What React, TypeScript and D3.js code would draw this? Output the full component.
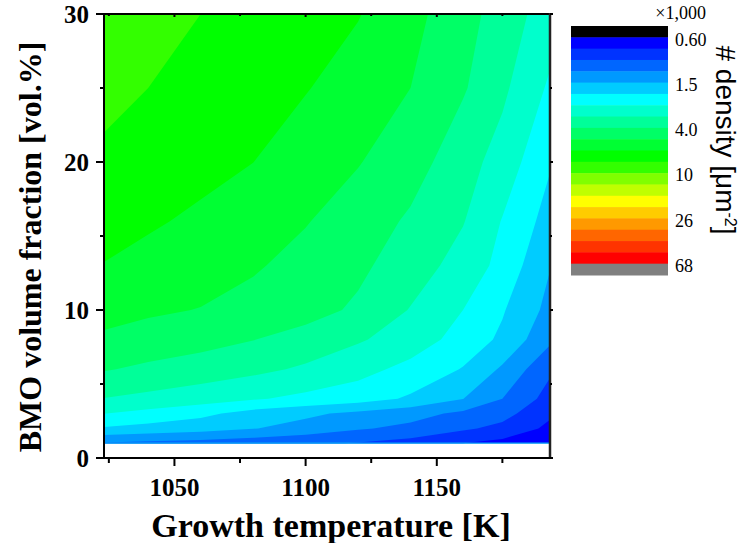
import React from "react";
import * as d3 from "d3";

// growth temperature [K] (grid columns)
const temps = [1023.15, 1040, 1060, 1080, 1100, 1120, 1140, 1160, 1175, 1193.15];
// BMO volume fraction [vol.%] (grid rows)
const fractions = [1, 2, 3, 4, 6, 8, 10, 13, 16, 20, 25, 30];
// number density, x1,000 um^-2, one row per volume fraction
const density = [
  [1.19, 1.15, 1.11, 1.06, 1.0, 0.95, 0.88, 0.76, 0.71, 0.65],
  [1.91, 1.8, 1.7, 1.56, 1.41, 1.25, 1.15, 1.0, 0.9, 0.72],
  [2.49, 2.31, 2.08, 1.78, 1.62, 1.46, 1.33, 1.16, 1.05, 0.79],
  [3.12, 2.96, 2.76, 2.54, 2.34, 2.18, 1.89, 1.55, 1.22, 0.88],
  [4.05, 3.8, 3.58, 3.33, 3.03, 2.69, 2.31, 1.93, 1.49, 1.0],
  [4.87, 4.59, 4.32, 4.0, 3.66, 3.22, 2.82, 2.26, 1.87, 1.28],
  [5.41, 5.22, 5.0, 4.7, 4.32, 3.84, 3.1, 2.48, 2.0, 1.44],
  [6.34, 6.02, 5.61, 5.16, 4.7, 4.17, 3.54, 2.86, 2.31, 1.56],
  [6.86, 6.54, 6.16, 5.61, 5.1, 4.53, 3.84, 3.18, 2.45, 1.78],
  [7.72, 7.27, 6.78, 6.39, 5.67, 5.1, 4.43, 3.45, 2.86, 2.0],
  [8.68, 8.09, 7.54, 6.94, 6.46, 5.74, 5.04, 4.08, 3.29, 2.39],
  [9.55, 8.89, 8.09, 7.62, 7.1, 6.46, 5.41, 4.37, 3.58, 2.79],
];

// contour levels (x1,000 um^-2)
const levels = [
  0.6, 0.76, 0.963, 1.22, 1.545, 1.957, 2.48, 3.14, 3.98, 5.04, 6.38,
  8.09, 10.2, 13.0, 16.4, 20.8, 26.4, 33.4, 42.3, 53.6, 68.0,
];
// band colours: below first level, between levels, above last level
const bandColors = [
  "#000000", "#0000ff", "#0033ff", "#0066ff", "#0099ff", "#00ccff", "#00ffff",
  "#00ffcc", "#00ff99", "#00ff66", "#00ff33", "#00ff00", "#33ff00", "#80ff00",
  "#bfff00", "#ffff00", "#ffcc00", "#ff9900", "#ff6600", "#ff3300", "#ff0000",
  "#808080",
];
const barLabels = ["0.60", "1.5", "4.0", "10", "26", "68"];
const barLabelLevels = [0, 4, 8, 12, 16, 20];

const xMajor = [1050, 1100, 1150];
const xMinor = [1025, 1075, 1125, 1175];
const yMajor = [0, 10, 20, 30];
const yMinor = [5, 15, 25];

const W = 743, H = 543;
const left = 104, right = 550, top = 14, bottom = 458;
const serif = "'Times New Roman', 'Liberation Serif', serif";
const sans = "Arial, 'Liberation Sans', sans-serif";

export default function App() {
  const x = d3.scaleLinear().domain([temps[0], temps[temps.length - 1]]).range([left, right]);
  const y = d3.scaleLinear().domain([0, 30]).range([bottom, top]);

  const n = temps.length, m = fractions.length;
  const colT = d3.scaleLinear().domain(d3.range(n)).range(temps);
  const rowV = d3.scaleLinear().domain(d3.range(m)).range(fractions);
  const logValues = density.flat().map((v) => Math.log10(v));
  const contours = d3.contours().size([n, m]).thresholds(levels.map((l) => Math.log10(l)))(logValues);

  const proj = d3.geoTransform({
    point(px: number, py: number) {
      const i = Math.max(0, Math.min(n - 1, px - 0.5));
      const j = Math.max(0, Math.min(m - 1, py - 0.5));
      (this as any).stream.point(x(colT(i)), y(rowV(j)));
    },
  });
  const path = d3.geoPath(proj);

  // colour bar
  const barTop = 26, barBottom = 275, barX = 571, barW = 97;
  const band = d3.scaleBand<number>().domain(d3.range(bandColors.length)).range([barTop, barBottom]);
  const bh = band.bandwidth();

  return (
    <svg width={W} height={H} style={{ position: "absolute", left: 0, top: 0, background: "#fff" }}>
      {/* contour fill */}
      <g>
        {contours.map((c, k) => (
          <path key={k} d={path(c as any) || ""} fill={bandColors[k + 1]} stroke="none" />
        ))}
        <line x1={left} x2={right} y1={y(fractions[0])} y2={y(fractions[0])} stroke="#0aa8f5" strokeWidth={1.2} />
      </g>

      {/* frame */}
      <line x1={left} x2={right} y1={top} y2={top} stroke="#000" strokeWidth={2} />
      <line x1={right} x2={right} y1={top - 1} y2={bottom + 1} stroke="#222" strokeWidth={2.5} />
      <line x1={left} x2={right + 1} y1={bottom} y2={bottom} stroke="#000" strokeWidth={2} />
      <line x1={left} x2={left} y1={top - 1} y2={bottom + 1} stroke="#000" strokeWidth={2} />

      {/* x ticks */}
      {xMajor.map((d) => (
        <g key={"xm" + d} transform={`translate(${x(d)},0)`}>
          <line y1={bottom} y2={bottom + 8} stroke="#000" strokeWidth={2} />
          <line y1={top} y2={top + 3} stroke="#000" strokeWidth={2} />
          <text y={496} textAnchor="middle" fontFamily={serif} fontWeight="bold" fontSize={25}>{d}</text>
        </g>
      ))}
      {xMinor.map((d) => (
        <g key={"xn" + d} transform={`translate(${x(d)},0)`}>
          <line y1={bottom} y2={bottom + 5} stroke="#000" strokeWidth={2} />
          <line y1={top} y2={top + 2} stroke="#000" strokeWidth={2} />
        </g>
      ))}

      {/* y ticks */}
      {yMajor.map((d) => (
        <g key={"ym" + d} transform={`translate(0,${y(d)})`}>
          <line x1={left - 8} x2={left} stroke="#000" strokeWidth={2} />
          <line x1={right} x2={right + 3} stroke="#000" strokeWidth={2} />
          <text x={89} dy="0.35em" textAnchor="end" fontFamily={serif} fontWeight="bold" fontSize={25}>{d}</text>
        </g>
      ))}
      {yMinor.map((d) => (
        <g key={"yn" + d} transform={`translate(0,${y(d)})`}>
          <line x1={left - 4} x2={left} stroke="#000" strokeWidth={2} />
          <line x1={right} x2={right + 2} stroke="#000" strokeWidth={2} />
        </g>
      ))}

      {/* axis titles */}
      <text x={331} y={537} textAnchor="middle" fontFamily={serif} fontWeight="bold" fontSize={34}>
        Growth temperature [K]
      </text>
      <text transform="translate(41,247) rotate(-90)" textAnchor="middle" fontFamily={serif} fontWeight="bold" fontSize={32}>
        BMO volume fraction [vol.%]
      </text>

      {/* colour bar */}
      {bandColors.map((c, i) => (
        <rect key={"b" + i} x={barX} y={band(i)!} width={barW} height={bh + 0.5} fill={c} />
      ))}
      {barLabels.map((t, i) => (
        <text key={"bl" + i} x={675} y={barTop + (barLabelLevels[i] + 1) * bh + 2} dy="0.35em"
          fontFamily={serif} fontSize={18}>{t}</text>
      ))}
      <text x={706} y={19} textAnchor="end" fontFamily={serif} fontSize={18}>×1,000</text>
      <text transform="translate(716,140) rotate(90)" textAnchor="middle" fontFamily={sans} fontSize={28}>
        # density [μm<tspan dy="-9" fontSize={16}>-2</tspan><tspan dy="9">]</tspan>
      </text>
    </svg>
  );
}
